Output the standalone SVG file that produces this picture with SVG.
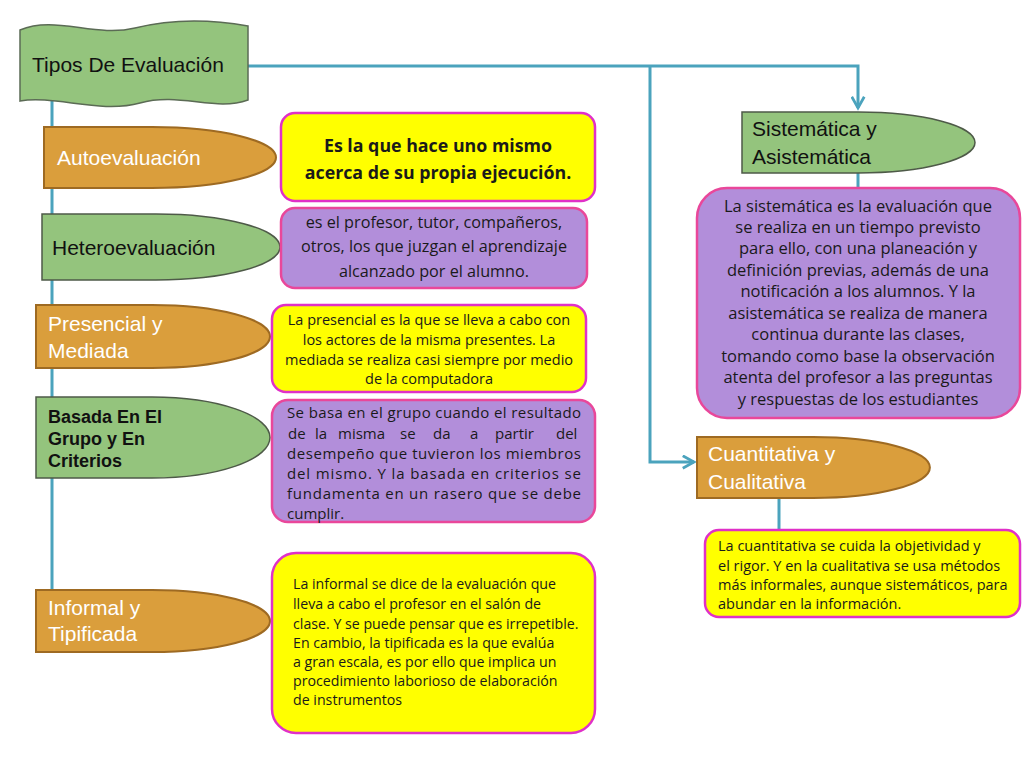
<svg xmlns="http://www.w3.org/2000/svg" width="1024" height="768" viewBox="0 0 1024 768">
<defs>
<style>
.lbl{font-family:"Liberation Sans",Arial,sans-serif;font-size:21px}
.lblb{font-family:"Liberation Sans",Arial,sans-serif;font-size:18px;font-weight:bold;fill:#111111}
.w{fill:#ffffff}
.k{fill:#111111}
.orange{fill:#DA9E3C;stroke:#9E6A22;stroke-width:2}
.green{fill:#94C47D;stroke:#4E5A48;stroke-width:1.5}
.yel{fill:#FFFF00;stroke:#E030C8;stroke-width:2.5}
.pur{fill:#B28EDA;stroke:#E9479A;stroke-width:2.5}
.desc{font-family:"Open Sans",Lato,sans-serif;fill:#1a1a1a}
.con{fill:none;stroke:#4BA3BD;stroke-width:3}
</style>
<marker id="arr" viewBox="0 0 12 12" refX="10" refY="6" markerWidth="5" markerHeight="5" orient="auto" markerUnits="strokeWidth">
<path d="M1,1 L10,6 L1,11" fill="none" stroke="#4BA3BD" stroke-width="2.2"/>
</marker>
</defs>
<rect width="1024" height="768" fill="#ffffff"/>
<g id="connectors">
<line class="con" x1="52" y1="100" x2="52" y2="590"/>
<polyline class="con" points="248,66 858,66 858,108" marker-end="url(#arr)"/>
<polyline class="con" points="650,66 650,462 694,462" marker-end="url(#arr)"/>
<line class="con" x1="858" y1="173" x2="858" y2="190"/>
<line class="con" x1="779" y1="498" x2="779" y2="531"/>
</g>
<g id="title">
<path d="M20,30 C55,15 95,38 135,28 C175,18 215,20 248,26 L248,100 C215,112 180,92 140,103 C100,114 55,95 20,101 Z" fill="#94C47D" stroke="#5B6B55" stroke-width="1.5"/>
<text class="lbl k" x="32" y="72">Tipos De Evaluación</text>
</g>
<g id="autoevaluacion">
<path class="orange" d="M44,127 H152 A124,30.5 0 0 1 152,188 H44 Z"/>
<text class="lbl w" x="57" y="165">Autoevaluación</text>
</g>
<g id="heteroevaluacion">
<path class="green" d="M42,214 H156 A124,33 0 0 1 156,280 H42 Z"/>
<text class="lbl k" x="52" y="255">Heteroevaluación</text>
</g>
<g id="presencial">
<path class="orange" d="M36,305 H152 A118,31.5 0 0 1 152,368 H36 Z"/>
<text class="lbl w" x="48" y="331">Presencial y</text>
<text class="lbl w" x="48" y="358">Mediada</text>
</g>
<g id="basada">
<path class="green" d="M36,397 H152 A118,40.5 0 0 1 152,478 H36 Z"/>
<text class="lblb" x="48" y="423">Basada En El</text>
<text class="lblb" x="48" y="445">Grupo y  En</text>
<text class="lblb" x="48" y="467">Criterios</text>
</g>
<g id="informal">
<path class="orange" d="M36,590 H152 A118,31 0 0 1 152,652 H36 Z"/>
<text class="lbl w" x="48" y="615">Informal y</text>
<text class="lbl w" x="48" y="641">Tipificada</text>
</g>
<g id="sistematica">
<path class="green" d="M742,112 H858 A117,30.5 0 0 1 858,173 H742 Z"/>
<text class="lbl k" x="752" y="136">Sistemática y</text>
<text class="lbl k" x="752" y="164">Asistemática</text>
</g>
<g id="cuantitativa">
<path class="orange" d="M697,437 H813 A117,30.5 0 0 1 813,498 H697 Z"/>
<text class="lbl w" x="708" y="461">Cuantitativa  y</text>
<text class="lbl w" x="708" y="489">Cualitativa</text>
</g>
<g id="desc-auto">
<rect class="yel" x="281" y="113" width="314" height="88" rx="14"/>
<text class="desc" x="438" y="152" font-size="17.8" font-weight="bold" text-anchor="middle">Es la que hace uno mismo</text>
<text class="desc" x="438" y="179" font-size="17.8" font-weight="bold" text-anchor="middle">acerca de su propia ejecución.</text>
</g>
<g id="desc-hetero">
<rect class="pur" x="281" y="208" width="306" height="80" rx="14"/>
<g font-size="16.2" text-anchor="middle">
<text class="desc" x="434" y="228">es el profesor, tutor,  compañeros,</text>
<text class="desc" x="434" y="252">otros, los que juzgan el aprendizaje</text>
<text class="desc" x="434" y="277">alcanzado por el alumno.</text>
</g>
</g>
<g id="desc-presencial">
<rect class="yel" x="272" y="305" width="314" height="87" rx="14"/>
<g font-size="14.5" text-anchor="middle">
<text class="desc" x="429" y="325">La presencial es la que se lleva  a cabo con</text>
<text class="desc" x="429" y="345">los actores de la misma  presentes. La</text>
<text class="desc" x="429" y="365">mediada se realiza casi siempre por medio</text>
<text class="desc" x="429" y="384">de la computadora</text>
</g>
</g>
<g id="desc-basada">
<rect class="pur" x="272" y="400" width="323" height="122" rx="16"/>
<g font-size="15">
<text class="desc" x="287" y="418" textLength="294">Se basa en el grupo cuando el resultado</text>
<text class="desc" y="439"><tspan x="288">de</tspan><tspan x="315">la</tspan><tspan x="338">misma</tspan><tspan x="400">se</tspan><tspan x="433">da</tspan><tspan x="470">a</tspan><tspan x="495">partir</tspan><tspan x="556">del</tspan></text>
<text class="desc" x="287" y="459" textLength="294">desempeño que tuvieron los miembros</text>
<text class="desc" x="287" y="479" textLength="294">del mismo. Y la basada en criterios se</text>
<text class="desc" x="287" y="499" textLength="294">fundamenta en un rasero que se debe</text>
<text class="desc" x="287" y="519">cumplir.</text>
</g>
</g>
<g id="desc-informal">
<rect class="yel" x="272" y="553" width="323" height="180" rx="24"/>
<g font-size="14.2">
<text class="desc" x="293" y="589">La informal  se dice de la evaluación  que</text>
<text class="desc" x="293" y="609">lleva  a cabo el profesor en el salón de</text>
<text class="desc" x="293" y="629">clase. Y se puede pensar que es irrepetible.</text>
<text class="desc" x="293" y="648">En cambio,  la tipificada  es la que evalúa</text>
<text class="desc" x="293" y="667">a gran escala, es por ello que implica  un</text>
<text class="desc" x="293" y="686">procedimiento  laborioso de elaboración</text>
<text class="desc" x="293" y="705">de instrumentos</text>
</g>
</g>
<g id="desc-sistematica">
<rect class="pur" x="697" y="188" width="323" height="230" rx="30"/>
<g font-size="16.5" text-anchor="middle">
<text class="desc" x="858" y="212">La sistemática  es la evaluación  que</text>
<text class="desc" x="858" y="233">se realiza en un tiempo previsto</text>
<text class="desc" x="858" y="254">para ello, con una planeación  y</text>
<text class="desc" x="858" y="276">definición  previas, además de una</text>
<text class="desc" x="858" y="297">notificación  a los alumnos.  Y la</text>
<text class="desc" x="858" y="319">asistemática  se realiza de manera</text>
<text class="desc" x="858" y="340">continua  durante las clases,</text>
<text class="desc" x="858" y="362">tomando como  base la observación</text>
<text class="desc" x="858" y="383">atenta del profesor a las preguntas</text>
<text class="desc" x="858" y="405">y respuestas de los estudiantes</text>
</g>
</g>
<g id="desc-cuantitativa">
<rect class="yel" x="705" y="530" width="315" height="87" rx="14"/>
<g font-size="14.5">
<text class="desc" x="718" y="551">La cuantitativa  se cuida la objetividad  y</text>
<text class="desc" x="718" y="571">el rigor. Y en la cualitativa  se usa métodos</text>
<text class="desc" x="718" y="590">más informales,  aunque sistemáticos,  para</text>
<text class="desc" x="718" y="609">abundar en la información.</text>
</g>
</g>
</svg>
